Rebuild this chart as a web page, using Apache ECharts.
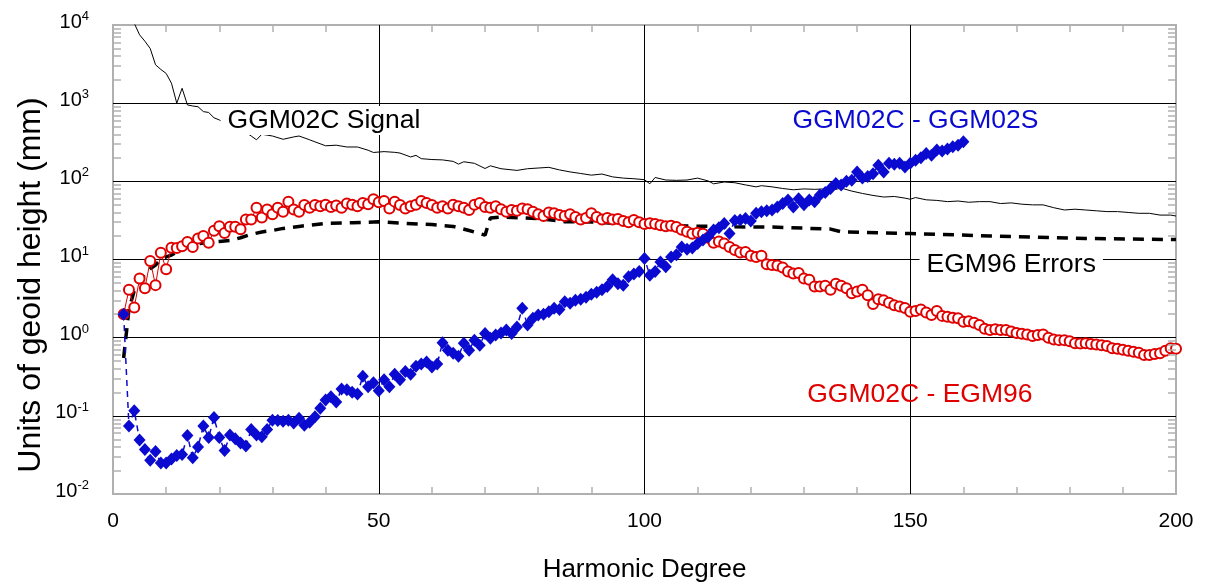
<!DOCTYPE html>
<html><head><meta charset="utf-8">
<script src="https://cdn.jsdelivr.net/npm/echarts@6/dist/echarts.min.js"></script>
<style>html,body{margin:0;padding:0;background:#fff}#c{width:1209px;height:584px}</style>
</head><body><div id="c"></div>
<script>
// ---------- DATA ----------
// GGM02C signal (black thin line): degree / value (mm)
var signalDeg = [2,3,4,5,6,7,8,9,10,11,12,13,14,15,16,17,18,19,20,21,22,24,26,27,28,29,30,32,34,35,37,38,40,42,44,46,48,49,51,53,54,56,57,58,60,62,64,65,66,68,70,71,73,76,78,80,82,84,86,88,90,92,94,96,98,100,101,102,104,106,108,110,112,113,115,117,119,121,122,124,126,128,130,132,134,136,137,139,141,143,145,147,149,150,151,153,155,157,159,161,163,165,167,169,171,173,175,177,179,181,183,185,187,189,191,193,195,197,199,200];
var signalVal = [60000,22000,10500,7500,6200,5000,3100,2700,2400,1800,1000,1550,950,920,900,780,760,650,610,560,530,470,380,340,400,390,380,345,370,380,340,320,285,290,275,275,250,234,240,235,230,205,215,195,190,188,180,166,178,170,146,158,145,138,145,148,151,140,132,126,120,124,114,110,108,105,93,112,104,103,104,110,101,93,98,96,90,85,88,85,81,78,80,79,80,79,82,75,70,66,63,64,61,59,62,58,57,55,56,54,55,55,52,53,51,50,50,46,43,44,43,42,41,41,40,39,39,37,37,36];

// EGM96 errors (black dashed line)
var egmDeg = [2,3,4,5,6,7,8,9,10,11,12,14,16,18,20,22,24,26,28,30,32,35,40,45,50,55,60,64,67,70,71,73,80,85,90,100,110,117,124,135,137,150,165,183,200];
var egmVal = [0.55,2.3,4.0,5.3,6.5,7.6,8.5,10,10.8,11.4,12.5,14.5,16,16.5,17,17.5,19,21,22.5,23.5,25,26.5,29,29.5,30.3,29,28,26.5,23.5,20.5,34,35,33.5,30.5,30.2,27.5,26.7,26.2,26,24.5,22.6,21.5,20,18.6,18];

// GGM02C - GGM02S (blue diamonds), degrees 2..160
var blueStartDeg = 2;
var blueVal = [2.0,0.074,0.116,0.049,0.037,0.027,0.035,0.025,0.025,0.028,0.031,0.032,0.056,0.029,0.040,0.074,0.053,0.095,0.053,0.036,0.057,0.051,0.045,0.041,0.067,0.057,0.054,0.067,0.088,0.087,0.085,0.088,0.081,0.093,0.076,0.083,0.097,0.125,0.16,0.175,0.15,0.22,0.215,0.20,0.19,0.32,0.235,0.265,0.21,0.29,0.235,0.34,0.29,0.37,0.34,0.43,0.46,0.49,0.42,0.46,0.86,0.69,0.63,0.58,0.85,0.69,0.93,0.80,1.13,0.98,1.08,1.15,1.25,1.13,1.37,2.37,1.45,1.77,1.95,2.0,2.14,2.37,2.3,2.88,2.75,3.0,3.1,3.3,3.6,3.8,4.1,4.5,5.5,4.9,4.7,6.0,6.5,7.0,10.3,6.3,7.0,9.3,8.1,10.8,11.5,14.5,13.5,14,16,17.8,19.5,23.8,25.5,28.8,21.5,31.6,32,33.5,31,39,40.7,42,43,47,52,57.5,47,60,50,57.5,55,67,72,81,94,90,100,103,132,110,115,125,161,132,170,165,170,153,170,186,200,227,215,252,245,260,277,290,320];

// GGM02C - EGM96 (red open circles), degrees 2..200
var redStartDeg = 2;
var redVal = [2.0,4.1,2.44,5.7,4.3,9.6,4.7,12.2,7.5,14.1,14,14.8,16.8,14.4,18.6,20,16.4,23.3,26.7,21.9,26.2,26.2,24.3,32.5,32.5,46,34.5,43.5,38,46,40.7,54.7,43.5,40.7,49.7,46,49.7,48,50,47,49,46,52,50,48,53,51,59,54,56,45,55,49.7,45,48,50,56,53,49.7,46,48,45,50,48,46,43,50,53,47,46,48,44,40.7,43,42,45,44,40.7,38,36,40,39,37,36,38,35,32.6,34,39,35,32.5,34,32.5,33,31,30,32,30,28.4,29,28.4,27.5,26.7,27,26,24,22.6,21.3,22,21.3,19,16.4,17,16,14.5,13.2,12.3,12.5,11.2,10.8,11.2,8.7,8.5,8.4,7.9,7.0,6.6,6.7,5.7,5.5,4.5,4.5,4.6,4.1,4.9,4.6,4.3,3.7,3.9,4.1,3.5,2.7,3.1,3.0,2.8,2.6,2.5,2.4,2.14,2.2,2.3,2.1,1.95,2.2,1.9,1.85,1.8,1.77,1.6,1.62,1.55,1.45,1.3,1.25,1.28,1.25,1.25,1.2,1.15,1.12,1.1,1.05,1.08,1.1,1.0,0.95,0.93,0.93,0.9,0.85,0.84,0.85,0.83,0.82,0.8,0.78,0.73,0.72,0.7,0.68,0.66,0.64,0.6,0.6,0.62,0.63,0.68,0.73,0.72];

// frame tick values
var yMinorTicks = [0.02,0.03,0.04,0.05,0.06,0.07,0.08,0.09,
  0.2,0.3,0.4,0.5,0.6,0.7,0.8,0.9,
  2,3,4,5,6,7,8,9,
  20,30,40,50,60,70,80,90,
  200,300,400,500,600,700,800,900,
  2000,3000,4000,5000,6000,7000,8000,9000];
var xMinorTicks = [10,20,30,40,60,70,80,90,110,120,130,140,160,170,180,190];

// annotations (text anchored in data coordinates)
var annotations = [
  {text:'GGM02C Signal', deg:39.7, val:600, color:'#000000', bg:'#ffffff'},
  {text:'GGM02C - GGM02S', deg:151, val:600, color:'#0a0ad0', bg:null},
  {text:'EGM96 Errors', deg:169, val:8.6, color:'#000000', bg:'#ffffff'},
  {text:'GGM02C - EGM96', deg:151.8, val:0.185, color:'#e00000', bg:null}
];

// ---------- CHART ----------
var FONT = '"Liberation Sans", Arial, Helvetica, sans-serif';
var chart = echarts.init(document.getElementById('c'), null, {renderer:'canvas'});

function pairs(degs, vals){ return vals.map(function(v,i){ return [degs[i], v]; }); }
function seqPairs(start, vals){ return vals.map(function(v,i){ return [start+i, v]; }); }

var gray = '#b0b0b0';
// tick segments expressed in data space (lengths: 1.5 degree ~ 8px; factor 1.23 ~ 7px on the log axis)
var tickSegs = [];
yMinorTicks.forEach(function(v){
  tickSegs.push([{coord:[0, v]}, {coord:[1.5, v]}]);
  tickSegs.push([{coord:[198.5, v]}, {coord:[200, v]}]);
});
xMinorTicks.forEach(function(x){
  tickSegs.push([{coord:[x, 0.01]}, {coord:[x, 0.0123]}]);
  tickSegs.push([{coord:[x, 8130]}, {coord:[x, 10000]}]);
});

var option = {
  animation: false,
  backgroundColor: '#ffffff',
  grid: {left:113, right:33, top:25, bottom:90, containLabel:false, outerBoundsMode:'none',
    show:true, borderColor:gray, borderWidth:2, backgroundColor:'transparent'},
  xAxis: {
    type:'value', min:0, max:200, interval:50, position:'bottom',
    axisLine:{show:false}, axisTick:{show:false},
    splitLine:{show:true, showMinLine:false, showMaxLine:false, lineStyle:{color:'#000', width:1}},
    axisLabel:{fontFamily:FONT, fontSize:21, color:'#000', margin:17},
    name:'Harmonic Degree', nameLocation:'middle', nameGap:63,
    nameTextStyle:{fontFamily:FONT, fontSize:26, color:'#000'}
  },
  yAxis: {
    type:'log', logBase:10, min:0.01, max:10000,
    axisLine:{show:false}, axisTick:{show:false},
    splitLine:{show:true, showMinLine:false, showMaxLine:false, lineStyle:{color:'#000', width:1}},
    axisLabel:{
      margin:24, padding:[0,0,8,0],
      formatter:function(v){ var e = Math.round(Math.log(v)/Math.LN10); return '{b|10}{s|' + e + '}'; },
      rich:{
        b:{fontFamily:FONT, fontSize:20, color:'#000', verticalAlign:'bottom', lineHeight:22},
        s:{fontFamily:FONT, fontSize:13, color:'#000', verticalAlign:'top', lineHeight:13}
      }
    }
  },
  series: [
    {
      name:'GGM02C Signal', type:'line', data:pairs(signalDeg, signalVal), showSymbol:false, symbol:'none',
      lineStyle:{color:'#000', width:1}, z:2, clip:true,
      markLine:{silent:true, animation:false, symbol:['none','none'], label:{show:false},
        lineStyle:{color:gray, width:1.5, type:'solid'}, emphasis:{disabled:true},
        data:tickSegs}
    },
    {
      name:'EGM96 Errors', type:'line', data:pairs(egmDeg, egmVal), showSymbol:false, symbol:'none',
      lineStyle:{color:'#000', width:3.5, type:[11,8]}, z:3
    },
    {
      name:'GGM02C - EGM96', type:'line', data:seqPairs(redStartDeg, redVal),
      symbol:'emptyCircle', symbolSize:10, showAllSymbol:true,
      itemStyle:{color:'#e00000', borderColor:'#e00000', borderWidth:1.7},
      lineStyle:{color:'#e00000', width:1}, z:4
    },
    {
      name:'GGM02C - GGM02S', type:'line', data:seqPairs(blueStartDeg, blueVal),
      symbol:'diamond', symbolSize:[12,13], showAllSymbol:true,
      itemStyle:{color:'#0a0ad0'},
      lineStyle:{color:'#0a0ad0', width:1.5, type:[6,5]}, z:5
    }
  ]
};
chart.setOption(option);

// ---------- annotations and y-axis title ----------
var g = [];
annotations.forEach(function(a){
  var p = chart.convertToPixel({gridIndex:0}, [a.deg, a.val]);
  var st = {text:a.text, font:'26.5px ' + FONT, fill:a.color, textAlign:'center', textVerticalAlign:'middle'};
  if (a.bg) { st.backgroundColor = a.bg; st.padding = [1,7,1,7]; }
  g.push({type:'text', z:100, silent:true, x:p[0], y:p[1], style:st});
});
g.push({type:'text', z:100, silent:true, x:31, y:285, rotation:Math.PI/2,
  style:{text:'Units of geoid height (mm)', font:'32px ' + FONT, fill:'#000', textAlign:'center', textVerticalAlign:'middle'}});
chart.setOption({graphic: g});
</script></body></html>
